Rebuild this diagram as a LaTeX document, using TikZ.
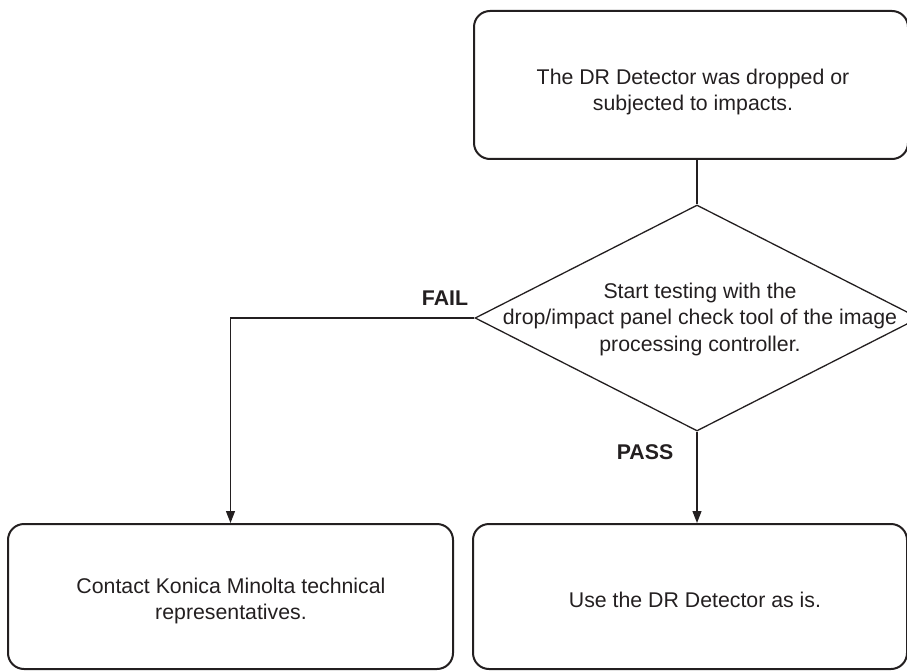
\documentclass[tikz,border=0pt]{standalone}
\usepackage{fontspec}
\setmainfont{Liberation Sans}
\usetikzlibrary{shapes.geometric,arrows.meta,positioning,calc}
\definecolor{inkgray}{HTML}{231F20}

\begin{document}
\begin{tikzpicture}[
  x=1pt, y=-1pt,
  font=\fontsize{21.3}{26.5}\selectfont,
  text=inkgray,
  >={Triangle[length=12pt, width=9pt]},
  action/.style={rectangle, rounded corners=16pt, draw=inkgray, line width=2pt,
                 inner sep=0pt},
  boxtext/.style={align=center, inner sep=0pt},
  decision/.style={diamond, draw=inkgray, line width=1.3pt, inner sep=0pt,
                   minimum width=444pt, minimum height=226pt},
  flow/.style={draw=inkgray, line width=1.2pt},
  verdict/.style={font=\fontsize{21.3}{26.5}\selectfont\bfseries},
]
\useasboundingbox (0,0) rectangle (907,671);

% Start event
\node[action, minimum width=434pt, minimum height=148pt] (event) at (691,85) {};
\node[boxtext] (eventtxt) at (693,92)
  {The DR Detector was dropped or\\subjected to impacts.};

% Check with the panel tool
\node[decision] (check) at (697,318) {};
\node[boxtext] (checktxt) at (700,319)
  {Start testing with the\\drop/impact panel check tool of the image\\processing controller.};

% Outcomes
\node[action, minimum width=445pt, minimum height=145pt] (contact) at (230.5,596.5) {};
\node[boxtext] (contacttxt) at (231,601)
  {Contact Konica Minolta technical\\representatives.};
\node[action, minimum width=434pt, minimum height=145pt] (useas) at (690,596.5) {};
\node[boxtext] (useastxt) at (695,600) {Use the DR Detector as is.};

% Connectors
\draw[flow] (event.south -| check.north) -- (check.north);
\draw[flow, ->] (check.west) -| (contact.north);
\draw[flow, ->] (check.south) -- (check.south |- useas.north);

% Branch labels
\node[verdict] (fail) at (445,298) {FAIL};
\node[verdict] (pass) at (645,452) {PASS};

\end{tikzpicture}
\end{document}
